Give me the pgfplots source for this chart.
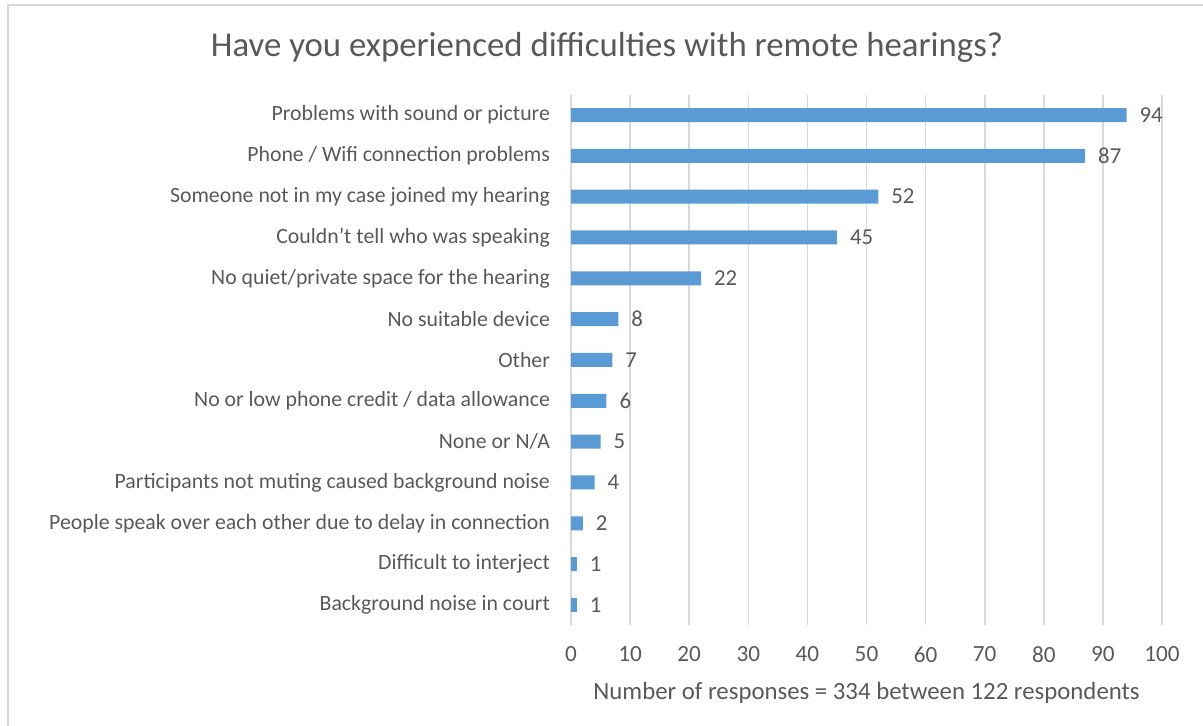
\documentclass[border=0pt]{standalone}
\usepackage{pgfplots}
\pgfplotsset{compat=1.18}
\usepackage{fontspec}
\setmainfont{Carlito}
\definecolor{txt}{HTML}{595959}
\definecolor{grd}{HTML}{D9D9D9}
\definecolor{bar}{HTML}{5B9BD5}
\begin{document}
\begin{tikzpicture}
\path[use as bounding box] (0,0) rectangle (601.5pt,363pt);
\draw[grd, line width=1pt] (4pt,0) -- (4pt,360.5pt) -- (601.5pt,360.5pt);
\node[text=txt, font=\fontsize{17.4}{20}\selectfont] at (303.5pt,339.5pt) {Have you experienced difficulties with remote hearings?};
\begin{axis}[
  at={(285.5pt,50.3pt)}, anchor=south west,
  scale only axis, width=295.5pt, height=265.4pt,
  xbar, bar width=7pt,
  xmin=0, xmax=100, ymin=-0.5, ymax=12.5,
  xtick={0,10,...,100},
  ytick={0,...,12},
  yticklabels={Background noise in court, Difficult to interject, People speak over each other due to delay in connection, Participants not muting caused background noise, None or N/A, No or low phone credit / data allowance, Other, No suitable device, No quiet/private space for the hearing, Couldn't tell who was speaking, Someone not in my case joined my hearing, Phone / Wifi connection problems, Problems with sound or picture},
  axis line style={draw=none},
  major tick length=0pt,
  xmajorgrids, grid style={grd, line width=0.8pt},
  xticklabel style={text=txt, font=\fontsize{11.6}{13}\selectfont, yshift=-7pt},
  yticklabel style={text=txt, font=\fontsize{10.9}{13}\selectfont, xshift=-7pt},
  /pgf/number format/assume math mode=true,
  xlabel={Number of responses = 334 between 122 respondents},
  xlabel style={text=txt, font=\fontsize{12.4}{14}\selectfont, yshift=-3pt},
  nodes near coords,
  nodes near coords style={text=txt, font=\fontsize{11.4}{13}\selectfont, xshift=3pt},
  point meta=x,
]
\addplot[fill=bar, draw=none] coordinates {
(1,0) (1,1) (2,2) (4,3) (5,4) (6,5) (7,6) (8,7) (22,8) (45,9) (52,10) (87,11) (94,12)
};
\end{axis}
\end{tikzpicture}
\end{document}
